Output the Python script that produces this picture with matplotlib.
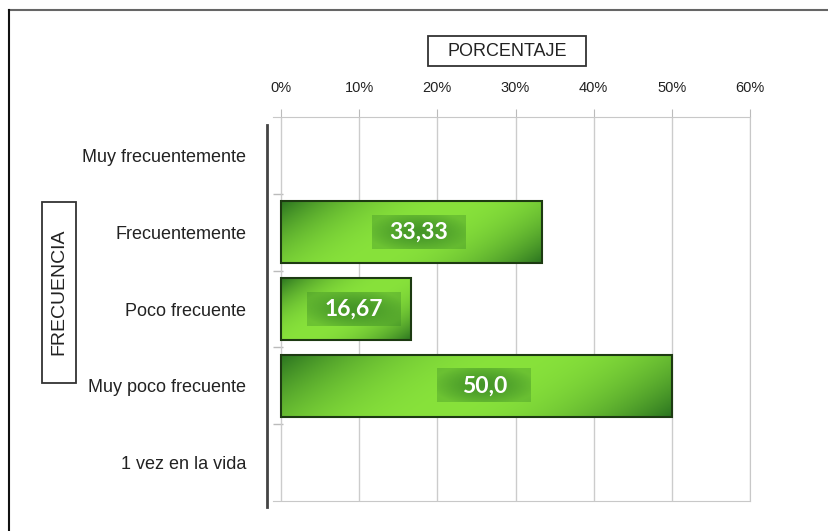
import numpy as np
import matplotlib.pyplot as plt
from matplotlib.patches import Rectangle
from matplotlib.lines import Line2D
from matplotlib.colors import to_rgb

# Datos
categorias = ['Muy frecuentemente', 'Frecuentemente', 'Poco frecuente',
              'Muy poco frecuente', '1 vez en la vida']
porcentajes = [0, 33.33, 16.67, 50.0, 0]
etiquetas = ['', '33,33', '16,67', '50,0', '']
ticks_x = [0, 10, 20, 30, 40, 50, 60]

plt.rcParams['font.family'] = ['Liberation Sans', 'DejaVu Sans']

fig = plt.figure(figsize=(8.29, 5.31), dpi=100)
ax = fig.add_axes([267/829, 30/531, 483/829, 384/531])

x_min = -14/7.815
ax.set_xlim(x_min, 60)
ax.set_ylim(4.5, -0.5)

oscuro = np.array(to_rgb('#2b7420'))
claro = np.array(to_rgb('#88e23b'))
alto = 0.8

# barras con degradado diagonal
for i, v in enumerate(porcentajes):
    if v <= 0:
        continue
    w_px = v * 7.815
    h_px = alto * 76.8
    xs = np.linspace(-w_px/2, w_px/2, 300)
    ys = np.linspace(-h_px/2, h_px/2, 60)
    X, Y = np.meshgrid(xs, ys)
    s = (X + 1.5*Y) / (w_px/2 + 1.5*h_px/2)
    b = 1 - np.clip(np.abs(s), 0, 1)**2.2
    img = oscuro + (claro - oscuro) * b[..., None]
    ax.imshow(img, extent=(0, v, i + alto/2, i - alto/2), origin='upper',
              aspect='auto', zorder=2, interpolation='bilinear')
    ax.add_patch(Rectangle((0, i - alto/2), v, alto, facecolor='none',
                           edgecolor='#1d3a12', lw=1.5, zorder=3))

    # caja de la etiqueta
    cx = v/2 + 1.0
    bw, bh = 12.0, 0.43
    xs2 = np.linspace(-1, 1, 120)
    ys2 = np.linspace(-1, 1, 40)
    X2, Y2 = np.meshgrid(xs2, ys2)
    r = np.clip(np.sqrt((X2*0.9)**2 + (Y2*0.8)**2), 0, 1)
    caja = np.zeros((40, 120, 4))
    caja[..., :3] = to_rgb('#2f7d22')
    caja[..., 3] = 0.3 + 0.45*(1 - r**1.5)
    ax.imshow(caja, extent=(cx - bw/2, cx + bw/2, i + bh/2, i - bh/2),
              origin='upper', aspect='auto', zorder=4, interpolation='bilinear')
    ax.text(cx, i, etiquetas[i], ha='center', va='center', color='white',
            fontsize=16.5, fontweight='bold', family=['Lato', 'DejaVu Sans'],
            zorder=5)

# ejes
ax.xaxis.tick_top()
ax.set_xticks(ticks_x)
ax.set_xticklabels([f'{t}%' for t in ticks_x])
ax.tick_params(axis='x', direction='out', length=6, color='#bbbbbb',
               labelsize=10.5, labelcolor='#222222', pad=10)
ax.grid(axis='x', color='#cccccc', lw=1, zorder=0)

ax.set_yticks(range(len(categorias)))
ax.set_yticklabels(categorias)
ax.tick_params(axis='y', length=0, labelsize=13, labelcolor='#222222', pad=15)

for lado in ['top', 'bottom', 'right']:
    ax.spines[lado].set_color('#c8c8c8')
ax.spines['top'].set_bounds(-1.0, 60)
ax.spines['bottom'].set_bounds(-1.0, 60)
ax.spines['left'].set_visible(False)
ax.hlines([0.5, 1.5, 2.5, 3.5], -1.0, 0.2, color='#bbbbbb', lw=1, zorder=1)
ax.add_line(Line2D([0, 0], [-0.0156, 0.979], transform=ax.transAxes,
                   color='#444444', lw=2, clip_on=False))

# títulos en recuadros
fig.add_artist(Rectangle((428/829, 465/531), 158/829, 30/531, fill=False,
                         edgecolor='#333333', lw=1.3, transform=fig.transFigure))
fig.text(507/829, 480/531, 'PORCENTAJE', ha='center', va='center',
         fontsize=13, color='#222222')
fig.add_artist(Rectangle((42/829, 148/531), 34/829, 181/531, fill=False,
                         edgecolor='#333333', lw=1.3, transform=fig.transFigure))
fig.text(59/829, 239/531, 'FRECUENCIA', ha='center', va='center',
         rotation=90, fontsize=14, color='#222222')

# marco de la figura
fig.add_artist(Line2D([9/829, 1], [521/531, 521/531], transform=fig.transFigure,
                      color='#666666', lw=1.5))
fig.add_artist(Line2D([9/829, 9/829], [0, 521/531], transform=fig.transFigure,
                      color='#111111', lw=1.5))

fig.savefig('out.png', dpi=100)
